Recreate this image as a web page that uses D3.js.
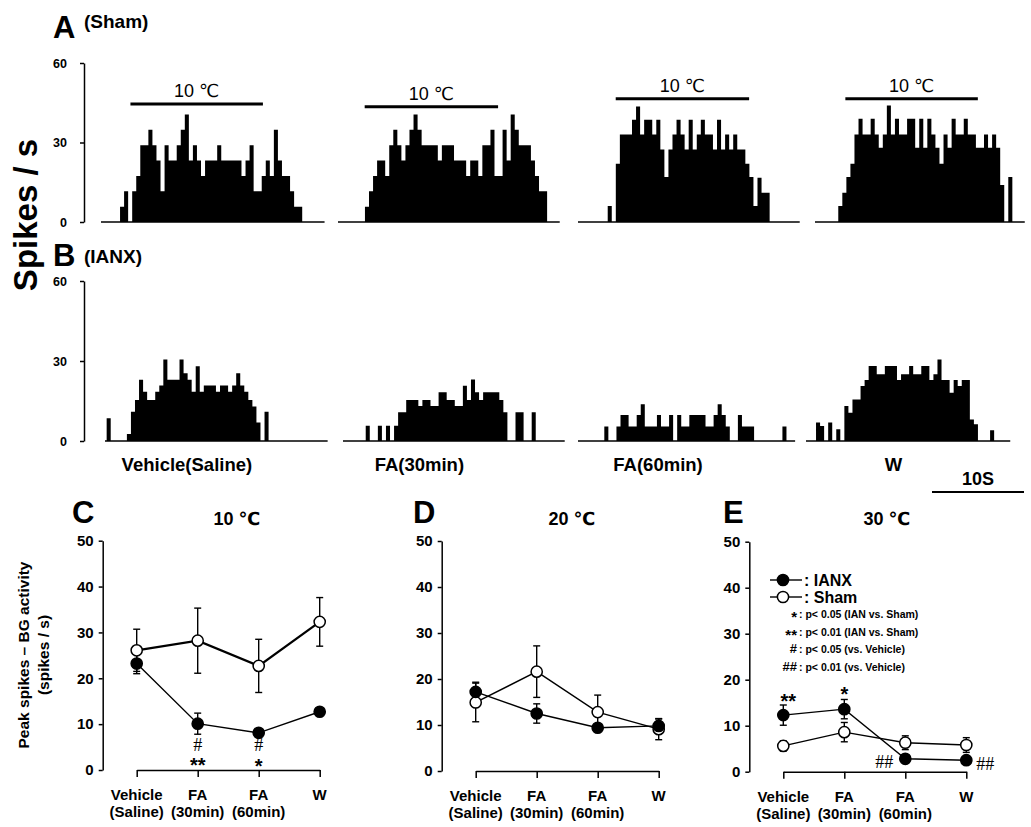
<!DOCTYPE html>
<html>
<head>
<meta charset="utf-8">
<script src="https://cdnjs.cloudflare.com/ajax/libs/d3/7.8.5/d3.min.js"></script>
<style>
  body { margin: 0; background: #fff; }
  svg { display: block; font-family: "Liberation Sans", Arial, "DejaVu Sans", sans-serif; }
  .axis text { font-weight: bold; fill: #000; }
  .axis path, .axis line { stroke: #000; stroke-width: 1.5; }
</style>
</head>
<body>
<div class="chart"></div>
<script>
// ---- histogram data (spikes / s per bin) ----
const conditions = ["Vehicle(Saline)", "FA(30min)", "FA(60min)", "W"];
const binSec = 0.44;
const histTicks = [0, 30, 60];

const shamOnset = [2.07, 2.93, 3.23, 2.53];
const ianxOnset = [0.18, 2.47, 2.86, 1.09];
const shamLength = [24.3, 24.1, 24.1, 22.8];
const ianxLength = [24.2, 24.1, 23.6, 22.2];
const stimStart = [3.2, 2.9, 4.1, 3.3];
const stimEnd = [17.6, 17.4, 18.6, 17.7];
const stimLevel = [44.5, 43.5, 46.5, 46.5];
const stimLabel = "10 ℃";

const shamRates = [
  [5.8,11.6,0,11.6,17.4,29,29,34.8,29,23.2,11.6,29,23.2,23.2,29,34.8,40.6,23.2,29,23.2,17.4,23.2,23.2,23.2,29,23.2,23.2,23.2,23.2,23.2,17.4,23.2,29,11.6,11.6,17.4,23.2,17.4,34.8,23.2,17.4,17.4,11.6,5.8,5.8],
  [5.8,11.6,17.4,23.2,23.2,17.4,29,34.8,29,23.2,29,34.8,40.6,34.8,29,29,29,29,23.2,29,29,29,23.2,23.2,23.2,17.4,23.2,23.2,17.4,29,29,34.8,17.4,17.4,34.8,23.2,40.6,34.8,29,29,29,23.2,17.4,11.6,11.6],
  [6,0,22,33,33,33,38.6,43.6,33,38.6,38.6,33,38.6,27.4,17,27.4,33,38.6,33,27.4,38.6,27.4,33,38.6,33,33,27.4,38.6,27.4,33,27.4,33,27.4,27.4,22,17,6,16.7,11,11],
  [6,11,17,22,33,39,33,33,39,33,28,33,44,33,39,33,33,39,39,28,39,28,39,33,28,22,33,28,39,33,33,39,33,33,28,28,33,28,33,28,14,0,17]
];
const ianxRates = [
  [8.5,0,0,0,0,2.6,11,15.4,23,18.5,15.4,15.4,18.5,20.8,30.6,23,23,23,30.6,25.4,23,18.5,28,18.5,20.8,20.8,20.8,18.5,20.8,20.8,18.5,20.8,25.4,20.8,18.5,15.4,12.9,6.9,0,11],
  [5.75,0,0,5.75,0,5.75,0,5.75,10.75,10.75,15.4,15.4,15.4,13.1,15.4,15.4,13.1,13.1,18.25,18.25,15.4,15.4,13.1,13.1,20.75,15.4,23.1,18.25,15.4,18.25,18.25,18.25,18.25,15.4,10.75,0,0,10.75,10.75,0,0,10.75],
  [5.4,0,0,5.4,9.75,9.75,5.4,5.4,9.75,13.75,5.4,5.4,5.4,9.75,5.4,5.4,9.75,0,9.75,5.4,5.4,9.75,9.75,9.75,9.75,5.4,5.4,9.75,13.75,9.75,5.4,0,0,9.75,5.4,5.4,5.4,0,0,0,0,0,0,0,5.4],
  [6.9,5.6,0,6.9,0,4.4,0,13.1,10.6,15.6,15.6,20.6,22.9,28.1,28.1,25,25,28.1,28.1,28.1,22.9,25,25,28.1,25,25,28.1,28.1,22.9,25,30.6,22.9,22.9,18.1,22.9,20.6,22.9,22.9,8.1,6.25,0,0,0,4]
];

// ---- peak spikes data ----
const catTop = ["Vehicle", "FA", "FA", "W"];
const catBottom = ["(Saline)", "(30min)", "(60min)", ""];
const peakTicks = [0, 10, 20, 30, 40, 50];
const temps = ["10 ℃", "20 ℃", "30 ℃"];

const ianxMean = [[23.2, 10.1, 8.1, 12.7], [17.2, 12.5, 9.4, 9.8], [12.3, 13.6, 2.8, 2.5]];
const ianxSem = [[2.2, 2.3, 0.6, 0.5], [2.1, 2.1, 0.5, 1.5], [2.2, 2.1, 0.5, 0.5]];
const shamMean = [[26.1, 28.2, 22.7, 32.3], [14.9, 21.6, 12.8, 9.1], [5.6, 8.6, 6.3, 5.8]];
const shamSem = [[4.6, 7.1, 5.8, 5.3], [4.2, 5.6, 3.7, 2.3], [1.1, 2.1, 1.5, 1.6]];

const statRows = [
  { sym: "*", txt: ": p< 0.05 (IAN vs. Sham)" },
  { sym: "**", txt: ": p< 0.01 (IAN vs. Sham)" },
  { sym: "#", txt: ": p< 0.05 (vs. Vehicle)" },
  { sym: "##", txt: ": p< 0.01 (vs. Vehicle)" }
];

// ---- layout ----
let svg;
const pxPerSec = 9.2;
const histRows = [
  { id: "A", tag: "(Sham)", y0: 222, y1: 63, x0: [101, 338, 578, 815], rates: shamRates, onset: shamOnset, len: shamLength, stim: true, letterY: 38, tagY: 28 },
  { id: "B", tag: "(IANX)", y0: 441, y1: 281, x0: [105, 343, 578, 806], rates: ianxRates, onset: ianxOnset, len: ianxLength, stim: false, letterY: 266, tagY: 263 }
];
const labelT = [8.9, 8.3, 8.7, 9.5];
const peakPanels = [
  { id: "C", ax: 102.7, y0: 770, y1: 540.7, lx: 72, title: 237, shamW: 2.2 },
  { id: "D", ax: 441.7, y0: 771, y1: 541, lx: 413, title: 572, shamW: 1.4 },
  { id: "E", ax: 749.3, y0: 771.7, y1: 541.7, lx: 723, title: 887, shamW: 1.4 }
];
const notes = [
  { p: 0, c: 1, v: 4.1, dx: 0, t: "#", serif: true },
  { p: 0, c: 1, v: -0.5, dx: 0, t: "**", serif: false },
  { p: 0, c: 2, v: 4.1, dx: 0, t: "#", serif: true },
  { p: 0, c: 2, v: -0.7, dx: 0, t: "*", serif: false },
  { p: 2, c: 0, v: 13.8, dx: 5, t: "**", serif: false },
  { p: 2, c: 1, v: 15.4, dx: 0, t: "*", serif: false },
  { p: 2, c: 2, v: 0.8, dx: -21, t: "##", serif: true },
  { p: 2, c: 3, v: 0.4, dx: 19, t: "##", serif: true }
];

init();

function init() {
  svg = d3.select(".chart").append("svg").attr("width", 1031).attr("height", 827);
  drawHistograms();
  drawPeaks();
}

function drawHistograms() {
  histRows.forEach(row => {
    const y = d3.scaleLinear().domain([0, 60]).range([row.y0, row.y1]);

    svg.append("text").text(row.id)
      .attr("x", 53).attr("y", row.letterY)
      .attr("font-size", 31).attr("font-weight", "bold");
    svg.append("text").text(row.tag)
      .attr("x", 84).attr("y", row.tagY)
      .attr("font-size", 19).attr("font-weight", "bold");

    svg.append("g").attr("class", "axis")
      .attr("transform", "translate(84,0)")
      .call(d3.axisLeft(y).tickValues(histTicks).tickSize(4).tickSizeOuter(0).tickPadding(13))
      .call(g => g.selectAll("text").attr("font-size", 12.5));

    row.rates.forEach((rates, i) => {
      const xs = d3.scaleLinear().domain([0, 1]).range([row.x0[i], row.x0[i] + pxPerSec]);
      const pts = rates.map((v, k) => ({ t: row.onset[i] + k * binSec, v: v }));
      pts.push({ t: row.onset[i] + rates.length * binSec, v: 0 });

      const area = d3.area().curve(d3.curveStepAfter)
        .x(d => xs(d.t)).y0(y(0)).y1(d => y(d.v));

      svg.append("path").attr("d", area(pts)).attr("fill", "#000");

      svg.append("line")
        .attr("x1", xs(0)).attr("x2", xs(row.len[i]))
        .attr("y1", y(0)).attr("y2", y(0))
        .attr("stroke", "#000").attr("stroke-width", 1.6);

      if (row.stim) {
        svg.append("line")
          .attr("x1", xs(stimStart[i])).attr("x2", xs(stimEnd[i]))
          .attr("y1", y(stimLevel[i])).attr("y2", y(stimLevel[i]))
          .attr("stroke", "#000").attr("stroke-width", 3);
        svg.append("text").text(stimLabel)
          .attr("x", (xs(stimStart[i]) + xs(stimEnd[i])) / 2)
          .attr("y", y(stimLevel[i]) - 7)
          .attr("text-anchor", "middle").attr("font-size", 18);
      } else {
        svg.append("text").text(conditions[i])
          .attr("x", xs(labelT[i])).attr("y", 471)
          .attr("text-anchor", "middle").attr("font-size", 18.5).attr("font-weight", "bold");
      }
    });
  });

  svg.append("text").text("Spikes / s")
    .attr("transform", "translate(37,215) rotate(-90)")
    .attr("text-anchor", "middle").attr("font-size", 33).attr("font-weight", "bold");

  // 10 s scale bar
  const sb = d3.scaleLinear().domain([0, 10]).range([932, 932 + 10 * pxPerSec]);
  svg.append("line").attr("x1", sb(0)).attr("x2", sb(10)).attr("y1", 492).attr("y2", 492)
    .attr("stroke", "#000").attr("stroke-width", 2);
  svg.append("text").text("10S").attr("x", sb(5)).attr("y", 485)
    .attr("text-anchor", "middle").attr("font-size", 18).attr("font-weight", "bold");
}

function drawPeaks() {
  svg.append("text").text("Peak spikes \u2013 BG activity")
    .attr("transform", "translate(29,655) rotate(-90)")
    .attr("text-anchor", "middle").attr("font-size", 15.5).attr("font-weight", "bold");
  svg.append("text").text("(spikes / s)")
    .attr("transform", "translate(49,655) rotate(-90)")
    .attr("text-anchor", "middle").attr("font-size", 15.5).attr("font-weight", "bold");

  peakPanels.forEach((p, k) => {
    const y = d3.scaleLinear().domain([0, 50]).range([p.y0, p.y1]);
    const x = d3.scalePoint().domain(d3.range(4)).range([p.ax + 34, p.ax + 217]);
    const g = svg.append("g");

    g.append("text").text(p.id).attr("x", p.lx).attr("y", 523)
      .attr("font-size", 31).attr("font-weight", "bold");
    g.append("text").text(temps[k]).attr("x", p.title).attr("y", 525)
      .attr("text-anchor", "middle").attr("font-size", 18).attr("font-weight", "bold");

    g.append("g").attr("class", "axis")
      .attr("transform", `translate(${p.ax},0)`)
      .call(d3.axisLeft(y).tickValues(peakTicks).tickSize(4).tickSizeOuter(0).tickPadding(5))
      .call(a => a.selectAll("text").attr("font-size", 15));

    g.append("g").attr("class", "axis")
      .attr("transform", `translate(0,${p.y0})`)
      .call(d3.axisBottom(x).tickSize(7).tickSizeOuter(0).tickFormat(""));

    const lab = g.selectAll(".cat").data(d3.range(4)).enter().append("text")
      .attr("text-anchor", "middle").attr("font-size", 15).attr("font-weight", "bold");
    lab.append("tspan").attr("x", d => x(d)).attr("y", p.y0 + 30).text(d => catTop[d]);
    lab.append("tspan").attr("x", d => x(d)).attr("y", p.y0 + 47).text(d => catBottom[d]);

    const series = [
      { mean: shamMean[k], sem: shamSem[k], fill: "#fff", w: p.shamW },
      { mean: ianxMean[k], sem: ianxSem[k], fill: "#000", w: 1.4 }
    ];
    const line = d3.line().x((d, i) => x(i)).y(d => y(d));

    series.forEach(s => {
      g.append("path").attr("d", line(s.mean))
        .attr("fill", "none").attr("stroke", "#000").attr("stroke-width", s.w);
    });
    series.forEach(s => {
      s.mean.forEach((m, i) => {
        const e = s.sem[i];
        g.append("line").attr("x1", x(i)).attr("x2", x(i))
          .attr("y1", y(m - e)).attr("y2", y(m + e))
          .attr("stroke", "#000").attr("stroke-width", 1.4);
        [m - e, m + e].forEach(v => {
          g.append("line").attr("x1", x(i) - 3.5).attr("x2", x(i) + 3.5)
            .attr("y1", y(v)).attr("y2", y(v))
            .attr("stroke", "#000").attr("stroke-width", 1.4);
        });
      });
    });
    series.forEach(s => {
      g.selectAll(null).data(s.mean).enter().append("circle")
        .attr("cx", (d, i) => x(i)).attr("cy", d => y(d)).attr("r", 5.6)
        .attr("fill", s.fill).attr("stroke", "#000").attr("stroke-width", 1.5);
    });

    notes.filter(n => n.p === k).forEach(n => {
      g.append("text").text(n.t)
        .attr("x", x(n.c) + n.dx).attr("y", y(n.v))
        .attr("text-anchor", "middle")
        .attr("font-family", n.serif ? "'Liberation Serif', 'Times New Roman', serif" : null)
        .attr("font-size", n.serif ? 18 : 20)
        .attr("font-weight", n.serif ? "normal" : "bold");
    });
  });

  // legend in panel E
  const legend = [
    { name: ": IANX", fill: "#000", y: 580 },
    { name: ": Sham", fill: "#fff", y: 597 }
  ];
  legend.forEach(l => {
    svg.append("line").attr("x1", 770).attr("x2", 802).attr("y1", l.y).attr("y2", l.y)
      .attr("stroke", "#000").attr("stroke-width", 1.4);
    svg.append("circle").attr("cx", 783).attr("cy", l.y).attr("r", 5.6)
      .attr("fill", l.fill).attr("stroke", "#000").attr("stroke-width", 1.5);
    svg.append("text").text(l.name).attr("x", 804).attr("y", l.y + 6)
      .attr("font-size", 16).attr("font-weight", "bold");
  });
  statRows.forEach((r, i) => {
    const yy = 618 + i * 17.5;
    const star = r.sym.indexOf("*") >= 0;
    svg.append("text").text(r.sym).attr("x", 797).attr("y", star ? yy + 4 : yy)
      .attr("text-anchor", "end").attr("font-weight", "bold")
      .attr("font-size", star ? 15 : 13);
    svg.append("text").text(r.txt).attr("x", 799).attr("y", yy)
      .attr("font-size", 10.5).attr("font-weight", "bold");
  });
}
</script>
</body>
</html>
